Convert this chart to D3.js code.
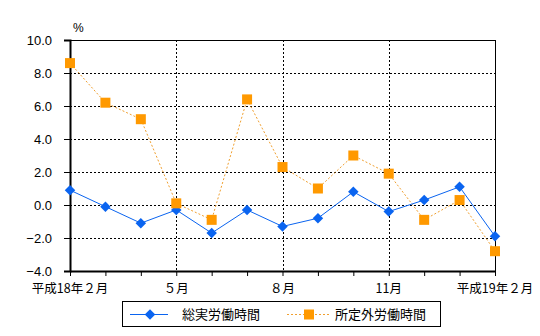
<!DOCTYPE html>
<html><head><meta charset="utf-8">
<script src="https://cdn.jsdelivr.net/npm/d3@7"></script>
<style>body{margin:0;background:#fff}svg{display:block}</style>
</head><body>
<svg id="c" width="540" height="336"></svg>
<script>
const months = ["2006-02","2006-03","2006-04","2006-05","2006-06","2006-07","2006-08","2006-09","2006-10","2006-11","2006-12","2007-01","2007-02"];
const tickLabels = ["平成18年２月","５月","８月","11月","平成19年２月"];
const tickIndex = [0,3,6,9,12];
const totalHours = [0.9,-0.1,-1.1,-0.3,-1.7,-0.3,-1.3,-0.8,0.8,-0.4,0.3,1.1,-1.9];
const overtimeHours = [8.6,6.2,5.2,0.1,-0.9,6.4,2.3,1.0,3.0,1.9,-0.9,0.3,-2.8];
const seriesNames = ["総実労働時間","所定外労働時間"];
const yTicks = [-4,-2,0,2,4,6,8,10];

const svg = d3.select("#c");
const L=70, R=495, T=40, B=271;
const x = d3.scaleLinear().domain([0,months.length-1]).range([L,R]);
const y = d3.scaleLinear().domain([-4,10]).range([B,T]);
const font = "'Liberation Sans', Arial, sans-serif";
const jfont = "'Noto Sans CJK JP', sans-serif";

svg.append("g").selectAll("line").data(yTicks.filter(v=>v>-4&&v<10)).join("line")
  .attr("x1",L).attr("x2",R).attr("y1",d=>Math.round(y(d))+0.5).attr("y2",d=>Math.round(y(d))+0.5)
  .attr("stroke","#000").attr("stroke-dasharray","2,2");
svg.append("g").selectAll("line").data([3,6,9]).join("line")
  .attr("x1",d=>Math.round(x(d))+0.5).attr("x2",d=>Math.round(x(d))+0.5).attr("y1",T).attr("y2",B)
  .attr("stroke","#000").attr("stroke-dasharray","2,2");
svg.append("line").attr("x1",L).attr("x2",R+0.5).attr("y1",T+0.5).attr("y2",T+0.5).attr("stroke","#000");
svg.append("line").attr("x1",R+0.5).attr("x2",R+0.5).attr("y1",T).attr("y2",B).attr("stroke","#000");

const yAxis = d3.axisLeft(y).tickValues(yTicks).tickFormat(d3.format(".1f")).tickSize(6).tickPadding(12);
const gy = svg.append("g").attr("transform",`translate(${L},0)`).call(yAxis);
gy.select(".domain").attr("stroke-width",2);
gy.selectAll("text").attr("font-family",font).attr("font-size",13).attr("fill","#000");
const xAxis = d3.axisBottom(x).tickValues(d3.range(months.length)).tickFormat("").tickSize(5).tickSizeOuter(0);
const gx = svg.append("g").attr("transform",`translate(0,${B})`).call(xAxis);
gx.select(".domain").attr("stroke-width",2);
gx.selectAll(".tick line").attr("stroke","#000");
svg.append("g").selectAll("text").data(tickIndex).join("text")
  .attr("x",d=>x(d)).attr("y",293).attr("text-anchor","middle")
  .attr("font-family",jfont).attr("font-size",12.5).text((d,i)=>tickLabels[i]);
svg.append("text").attr("x",73).attr("y",32).attr("font-family",font).attr("font-size",12).text("%");

const blue="#0a64f0", orange="#ff9900";
const line = d3.line().x((d,i)=>x(i)).y(d=>y(d));
svg.append("path").datum(overtimeHours).attr("d",line).attr("fill","none")
  .attr("stroke","#f0a030").attr("stroke-width",1).attr("stroke-dasharray","2,2");
svg.append("path").datum(totalHours).attr("d",line).attr("fill","none")
  .attr("stroke",blue).attr("stroke-width",1);
const dia = d3.symbol().type(d3.symbolSquare).size(55)();
svg.append("g").selectAll("path").data(totalHours).join("path")
  .attr("d",dia)
  .attr("transform",(d,i)=>`translate(${x(i)},${y(d)}) rotate(45)`).attr("fill",blue);
svg.append("g").selectAll("rect").data(overtimeHours).join("rect")
  .attr("x",(d,i)=>x(i)-5).attr("y",d=>y(d)-5).attr("width",10).attr("height",10).attr("fill",orange);

const lg = svg.append("g");
lg.append("rect").attr("x",122.5).attr("y",301.5).attr("width",318).attr("height",25).attr("fill","#fff").attr("stroke","#000");
lg.append("line").attr("x1",130).attr("x2",168).attr("y1",314.5).attr("y2",314.5).attr("stroke",blue);
lg.append("path").attr("d",dia).attr("transform","translate(150,314.5) rotate(45)").attr("fill",blue);
lg.append("text").attr("x",182).attr("y",319).attr("font-family",jfont).attr("font-size",13).text(seriesNames[0]);
lg.append("line").attr("x1",287).attr("x2",330).attr("y1",314.5).attr("y2",314.5).attr("stroke","#f0a030").attr("stroke-dasharray","2,2");
lg.append("rect").attr("x",304).attr("y",309.5).attr("width",10).attr("height",10).attr("fill",orange);
lg.append("text").attr("x",335).attr("y",319).attr("font-family",jfont).attr("font-size",13).text(seriesNames[1]);
</script>
</body></html>
